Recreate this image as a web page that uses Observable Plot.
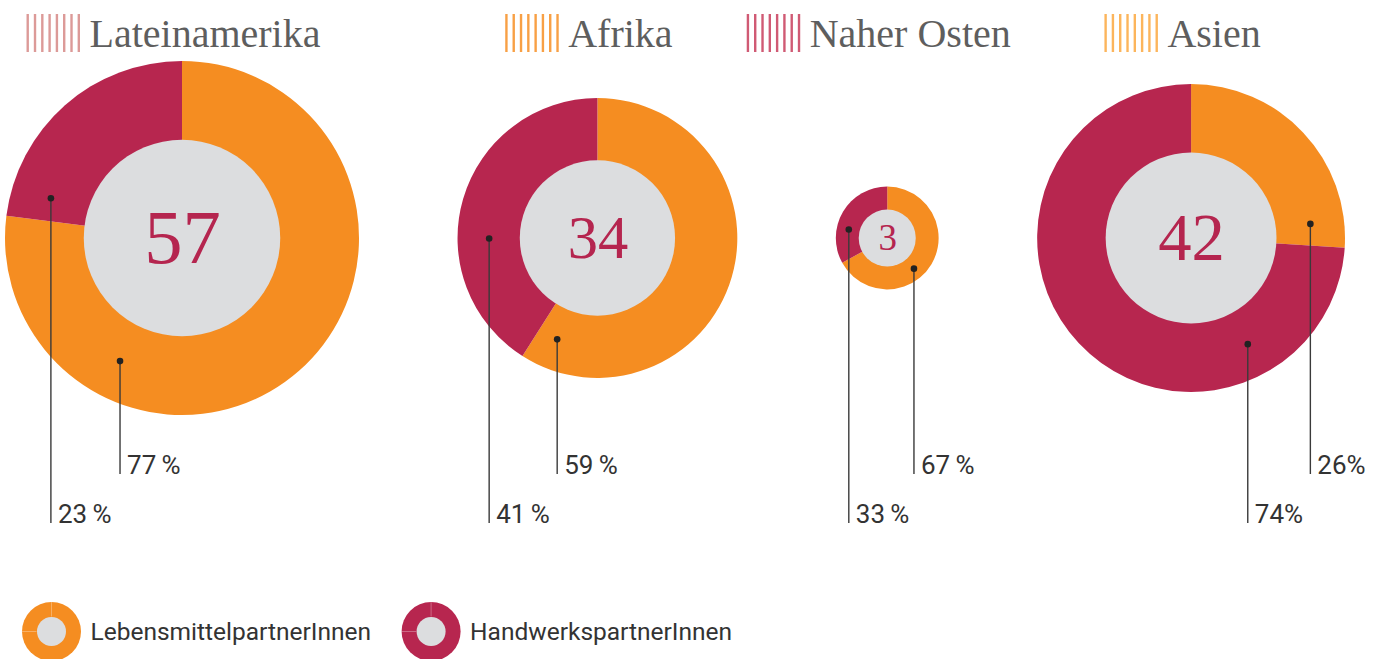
<!DOCTYPE html>
<html>
<head>
<meta charset="utf-8">
<script src="https://cdn.jsdelivr.net/npm/d3@7"></script>
<script src="https://cdn.jsdelivr.net/npm/@observablehq/plot@0.6"></script>
<style>
  html, body { margin: 0; padding: 0; background: #ffffff; }
  #chart svg { display: block; }
</style>
</head>
<body>
<div id="chart"></div>
<script>
// ---------- data ----------
const regions = ["Lateinamerika", "Afrika", "Naher Osten", "Asien"];
const partnerTotals = [57, 34, 3, 42];
const lebensmittelPct = [77, 59, 67, 26];
const handwerkPct = [23, 41, 33, 74];
const lebensmittelLabels = ["77\u2009%", "59\u2009%", "67\u2009%", "26%"];
const handwerkLabels = ["23\u2009%", "41\u2009%", "33\u2009%", "74%"];
const seriesNames = ["LebensmittelpartnerInnen", "HandwerkspartnerInnen"];

// ---------- styles / layout ----------
const W = 1400, H = 659;
const ORANGE = "#f58d21", RED = "#b7264f", GRAY = "#dcdddf", NUM = "#b5254f";
const TITLE_COLOR = "#5e5e5e", TEXT_COLOR = "#333333", LINE_COLOR = "#3a3a3a";
const iconColors = ["#dc9a98", "#f8a045", "#d05a74", "#fcb55c"];
const innerFrac = 0.555;
const lebAnchorDeg = [207, 202, 139, 83];
const hwAnchorDeg = [287, 270, 283, 152];
const rOpts = {type: "sqrt", domain: [0, 57], range: [14, 177]};
const rScale = Plot.scale({r: rOpts});
const radii = partnerTotals.map(v => rScale.apply(v));
const leftEdge = 5, rightEdge = 1345, cy = 238;
const gap = (rightEdge - leftEdge - 2 * d3.sum(radii)) / (radii.length - 1);
const cxs = [];
{ let acc = leftEdge; radii.forEach(r => { cxs.push(acc + r); acc += 2 * r + gap; }); }

const canvas = document.createElement("canvas").getContext("2d");
function textWidth(str, font) { canvas.font = font; return canvas.measureText(str).width; }

const rows = regions.map((name, i) => ({
  name, total: partnerTotals[i], leb: lebensmittelPct[i], hw: handwerkPct[i],
  x: cxs[i], y: cy, R: radii[i]
}));

// title rows (icon + text centred over each donut)
const TITLE_FONT = "Liberation Serif";
const titleRows = rows.map((d, i) => {
  const tw = textWidth(d.name, `40px '${TITLE_FONT}'`);
  const group = 53 + 10 + tw;
  const iconLeft = d.x - 9 - group / 2;
  return {name: d.name, iconLeft, textX: iconLeft + 63, color: iconColors[i]};
});
const stripeRows = titleRows.flatMap(t => d3.range(8).map(k => ({x: t.iconLeft + 1.2 + k * 7.3, color: t.color})));

// label anchors
function anchor(d, deg) {
  const a = deg * Math.PI / 180, rr = d.R * (1 + innerFrac) / 2;
  return {x: d.x + rr * Math.sin(a), y: d.y - rr * Math.cos(a)};
}
const ROW_LEB = 474, ROW_HW = 523;
const labelRows = rows.flatMap((d, i) => {
  const a1 = anchor(d, lebAnchorDeg[i]), a2 = anchor(d, hwAnchorDeg[i]);
  return [
    {x: a1.x, y: a1.y, yEnd: ROW_LEB, label: lebensmittelLabels[i]},
    {x: a2.x, y: a2.y, yEnd: ROW_HW, label: handwerkLabels[i]}
  ];
});

// legend
const LEG_Y = 631, LEG_FONT = "Roboto";
const leg1X = 51;
const leg1TextX = leg1X + 39;
const leg2X = leg1TextX + textWidth(seriesNames[0], `24.5px ${LEG_FONT}`) + 60;
const legendRows = [
  {x: leg1X, tx: leg1TextX, name: seriesNames[0], color: ORANGE},
  {x: leg2X, tx: leg2X + 39, name: seriesNames[1], color: RED}
];

// donut render
function donutRender(index, scales, values) {
  const g = d3.create("svg:g");
  for (const i of index) {
    const R = values.r[i], x = values.x[i], y = values.y[i];
    const d = rows[i];
    const a1 = 2 * Math.PI * d.leb / 100;
    const gi = g.append("g").attr("transform", `translate(${x},${y})`);
    gi.append("path").attr("d", d3.arc()({innerRadius: 0, outerRadius: R, startAngle: 0, endAngle: a1})).attr("fill", ORANGE);
    gi.append("path").attr("d", d3.arc()({innerRadius: 0, outerRadius: R, startAngle: a1, endAngle: 2 * Math.PI})).attr("fill", RED);
    gi.append("circle").attr("r", R * innerFrac).attr("fill", GRAY);
  }
  return g.node();
}

const chart = Plot.plot({
  width: W, height: H,
  margin: 0,
  x: {domain: [0, W], range: [0, W], axis: null},
  y: {domain: [0, H], range: [0, H], axis: null},
  r: rOpts,
  style: {background: "#ffffff"},
  marks: [
    // donuts
    Plot.dot(rows, {x: "x", y: "y", r: "total", render: donutRender}),
    // central numbers
    Plot.text(rows, {x: "x", y: "y", text: d => String(d.total), fontFamily: TITLE_FONT,
      fontSize: d => Math.max(37, 0.78 * innerFrac * d.R), fill: NUM, textAnchor: "middle", lineAnchor: "middle"}),
    // title icons & titles
    Plot.ruleX(stripeRows, {x: "x", y1: 14, y2: 52, stroke: "color", strokeWidth: 2.4}),
    Plot.text(titleRows, {x: "textX", y: 46, text: "name", fontFamily: TITLE_FONT, fontSize: 40,
      fill: TITLE_COLOR, textAnchor: "start", lineAnchor: "bottom"}),
    // leader lines and labels
    Plot.ruleX(labelRows, {x: "x", y1: "y", y2: "yEnd", stroke: LINE_COLOR, strokeWidth: 1.4}),
    Plot.dot(labelRows, {x: "x", y: "y", r: 3.3, fill: "#222222", stroke: "none"}),
    Plot.text(labelRows, {x: "x", y: d => d.yEnd - 0.5, dx: 7, text: "label", fontFamily: "Roboto", fontSize: 26,
      fill: TEXT_COLOR, textAnchor: "start", lineAnchor: "bottom"}),
    // legend
    Plot.dot(legendRows, {x: "x", y: LEG_Y, r: 29.5, fill: "color", stroke: "none"}),
    Plot.ruleX(legendRows, {x: "x", y1: LEG_Y - 29.5, y2: LEG_Y - 14.5, stroke: "#ffffff", strokeOpacity: 0.3, strokeWidth: 1}),
    Plot.ruleY(legendRows, {y: LEG_Y, x1: d => d.x - 29.5, x2: d => d.x - 14.5, stroke: "#ffffff", strokeOpacity: 0.3, strokeWidth: 1}),
    Plot.dot(legendRows, {x: "x", y: LEG_Y, r: 14.5, fill: GRAY, stroke: "none"}),
    Plot.text(legendRows, {x: "tx", y: 639.5, text: "name", fontFamily: LEG_FONT, fontSize: 24.5,
      fill: TEXT_COLOR, textAnchor: "start", lineAnchor: "bottom"})
  ]
});
document.getElementById("chart").appendChild(chart);
</script>
</body>
</html>
